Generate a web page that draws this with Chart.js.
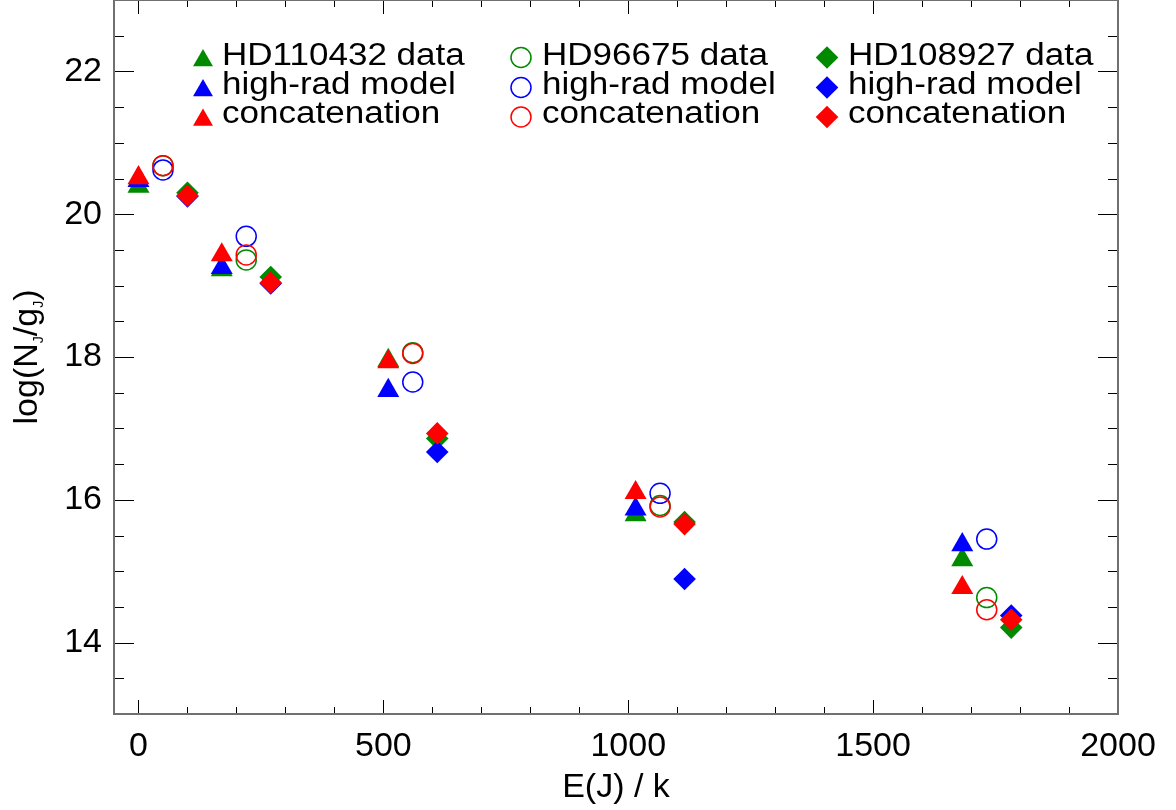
<!DOCTYPE html>
<html>
<head>
<meta charset="utf-8">
<script src="https://cdn.jsdelivr.net/npm/chart.js@4.4.0/dist/chart.umd.min.js"></script>
<style>
  html, body { margin: 0; padding: 0; background: #fff; }
  #wrap { width: 1176px; height: 810px; }
</style>
</head>
<body>
<div id="wrap"><canvas id="chart" width="1176" height="810"></canvas></div>
<script>
// E(J)/k positions, each star shifted a little so the symbols don't overlap
const xHD110432 = [0, 170, 510, 1015, 1682];
const xHD96675 = [50, 220, 560, 1065, 1732];
const xHD108927 = [100, 270, 610, 1115, 1782];

// log(N_J/g_J)
const hd110432Data = [20.39, 19.22, 17.95, 15.79, 15.16];
const hd110432Model = [20.47, 19.25, 17.53, 15.87, 15.37];
const hd110432Concat = [20.51, 19.43, 17.93, 16.10, 14.77];

const hd96675Data = [20.68, 19.36, 18.06, 15.92, 14.63];
const hd96675Model = [20.62, 19.69, 17.65, 16.09, 15.45];
const hd96675Concat = [20.68, 19.43, 18.05, 15.90, 14.46];

const hd108927Data = [20.30, 19.12, 16.86, 15.69, 14.21];
const hd108927Model = [20.25, 19.03, 16.67, 14.89, 14.38];
const hd108927Concat = [20.26, 19.04, 16.93, 15.66, 14.32];

// axes
const xMajorTicks = [0, 500, 1000, 1500, 2000];
const yMajorTicks = [14, 16, 18, 20, 22];
const xMinorStep = 100;
const yMinorStep = 0.5;

const GREEN = '#008a00';
const BLUE = '#0000ff';
const RED = '#ff0000';
const FONT = '"Liberation Sans", Arial, Helvetica, sans-serif';

Chart.defaults.font.family = FONT;
Chart.defaults.color = '#000';

function points(xs, ys) {
    return xs.map((x, i) => ({ x: x, y: ys[i] }));
}

function triangles(label, xs, ys, color, row) {
    return {
        label: label, data: points(xs, ys), col: 0, row: row,
        pointStyle: 'triangle', pointRadius: 12.7, legendRadius: 11.5,
        backgroundColor: color, borderColor: color, borderWidth: 0,
        order: 2 - row
    };
}

function circles(label, xs, ys, color, row) {
    return {
        label: label, data: points(xs, ys), col: 1, row: row,
        pointStyle: 'circle', pointRadius: 10, legendRadius: 10,
        backgroundColor: 'rgba(0,0,0,0)', borderColor: color, borderWidth: 1.5,
        order: 2 - row
    };
}

function diamonds(label, xs, ys, color, row) {
    return {
        label: label, data: points(xs, ys), col: 2, row: row,
        pointStyle: 'rectRot', pointRadius: 11.3, legendRadius: 11.3,
        backgroundColor: color, borderColor: color, borderWidth: 0,
        order: 2 - row
    };
}

// legend layout: 3 columns (one per star) x 3 rows
const legendCols = [
    { markerX: 203, textX: 222 },
    { markerX: 521, textX: 542 },
    { markerX: 827, textX: 848 }
];
const legendRows = [
    { markerY: 57.5, baseline: 65 },
    { markerY: 87.5, baseline: 94 },
    { markerY: 117, baseline: 123 }
];

const legendPlugin = {
    id: 'gridLegend',
    afterDatasetsDraw(chart) {
        const ctx = chart.ctx;
        chart.data.datasets.forEach(ds => {
            const col = legendCols[ds.col];
            const row = legendRows[ds.row];
            let my = row.markerY;
            if (ds.pointStyle === 'triangle') my += ds.legendRadius * 0.25;
            ctx.save();
            ctx.fillStyle = ds.backgroundColor;
            ctx.strokeStyle = ds.borderColor;
            ctx.lineWidth = ds.borderWidth;
            Chart.helpers.drawPoint(ctx, {
                pointStyle: ds.pointStyle,
                radius: ds.legendRadius,
                borderWidth: ds.borderWidth,
                rotation: 0
            }, col.markerX, my);
            ctx.restore();

            ctx.save();
            ctx.fillStyle = '#000';
            ctx.font = '31px ' + FONT;
            ctx.textBaseline = 'alphabetic';
            ctx.translate(col.textX, row.baseline);
            ctx.scale(1.13, 1);
            ctx.fillText(ds.label, 0, 0);
            ctx.restore();
        });
    }
};

// y title with subscripts
const yTitlePlugin = {
    id: 'yTitle',
    afterDraw(chart) {
        const ctx = chart.ctx;
        const a = chart.chartArea;
        const parts = [['log(N', false], ['J', true], ['/g', false], ['J', true], [')', false]];
        const bigFont = '34px ' + FONT;
        const subFont = '14px ' + FONT;
        ctx.save();
        let total = 0;
        parts.forEach(p => {
            ctx.font = p[1] ? subFont : bigFont;
            total += ctx.measureText(p[0]).width;
        });
        ctx.translate(37, (a.top + a.bottom) / 2);
        ctx.rotate(-Math.PI / 2);
        ctx.fillStyle = '#000';
        ctx.textBaseline = 'alphabetic';
        let x = -total / 2;
        parts.forEach(p => {
            ctx.font = p[1] ? subFont : bigFont;
            ctx.fillText(p[0], x, p[1] ? 5.5 : 0);
            x += ctx.measureText(p[0]).width;
        });
        ctx.restore();
    }
};

// box around the plot with inward ticks on all four sides
const framePlugin = {
    id: 'frameTicks',
    afterDraw(chart) {
        const ctx = chart.ctx;
        const a = chart.chartArea;
        const xs = chart.scales.x;
        const ys = chart.scales.y;
        ctx.save();
        ctx.strokeStyle = '#000';
        ctx.lineWidth = 1;
        ctx.beginPath();
        for (let v = 0; v <= xs.max; v += xMinorStep) {
            const px = Math.round(xs.getPixelForValue(v)) + 0.5;
            const len = xMajorTicks.includes(v) ? 14 : 7;
            ctx.moveTo(px, a.bottom); ctx.lineTo(px, a.bottom - len);
            ctx.moveTo(px, a.top); ctx.lineTo(px, a.top + len);
        }
        for (let v = ys.min; v <= ys.max; v += yMinorStep) {
            const py = Math.round(ys.getPixelForValue(v)) + 0.5;
            const len = yMajorTicks.includes(v) ? 20 : 10;
            ctx.moveTo(a.left, py); ctx.lineTo(a.left + len, py);
            ctx.moveTo(a.right, py); ctx.lineTo(a.right - len, py);
        }
        ctx.stroke();
        ctx.strokeStyle = '#707070';
        ctx.lineWidth = 2;
        ctx.strokeRect(a.left, a.top, a.right - a.left, a.bottom - a.top);
        ctx.restore();
    }
};

const datasets = [
    triangles('HD110432 data', xHD110432, hd110432Data, GREEN, 0),
    triangles('high-rad model', xHD110432, hd110432Model, BLUE, 1),
    triangles('concatenation', xHD110432, hd110432Concat, RED, 2),
    circles('HD96675 data', xHD96675, hd96675Data, GREEN, 0),
    circles('high-rad model', xHD96675, hd96675Model, BLUE, 1),
    circles('concatenation', xHD96675, hd96675Concat, RED, 2),
    diamonds('HD108927 data', xHD108927, hd108927Data, GREEN, 0),
    diamonds('high-rad model', xHD108927, hd108927Model, BLUE, 1),
    diamonds('concatenation', xHD108927, hd108927Concat, RED, 2)
];

new Chart(document.getElementById('chart').getContext('2d'), {
    type: 'scatter',
    data: { datasets: datasets },
    options: {
        responsive: false,
        animation: false,
        events: [],
        layout: {
            autoPadding: false,
            padding: { left: 0, right: 58, top: 0, bottom: 0 }
        },
        plugins: {
            legend: { display: false },
            tooltip: { enabled: false }
        },
        scales: {
            x: {
                type: 'linear',
                min: -50,
                max: 2000,
                grid: { display: false, drawTicks: false },
                border: { display: false },
                afterBuildTicks: (scale) => {
                    scale.ticks = xMajorTicks.map(v => ({ value: v }));
                },
                afterFit: (scale) => { scale.height = 96; },
                ticks: {
                    padding: 12,
                    maxRotation: 0,
                    font: { size: 34 },
                    callback: (v) => String(v)
                },
                title: {
                    display: true,
                    text: 'E(J) / k',
                    font: { size: 34 },
                    padding: { top: 0, bottom: 2 }
                }
            },
            y: {
                type: 'linear',
                min: 13,
                max: 23,
                grid: { display: false, drawTicks: false },
                border: { display: false },
                afterBuildTicks: (scale) => {
                    scale.ticks = yMajorTicks.map(v => ({ value: v }));
                },
                afterFit: (scale) => {
                    scale.width = 114;
                    scale.paddingTop = 0;
                    scale.paddingBottom = 0;
                },
                ticks: {
                    padding: 12,
                    font: { size: 34 },
                    callback: (v) => String(v)
                }
            }
        }
    },
    plugins: [framePlugin, legendPlugin, yTitlePlugin]
});
</script>
</body>
</html>
